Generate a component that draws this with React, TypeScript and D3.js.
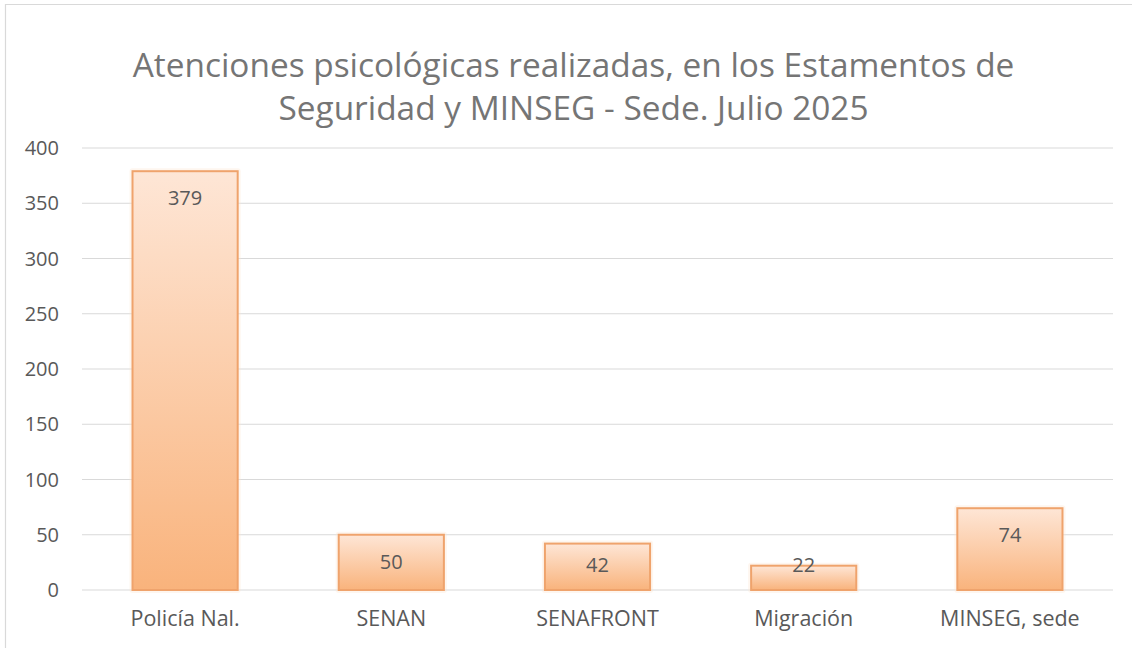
import React from "react";
import * as d3 from "d3";

const categories = ["Policía Nal.", "SENAN", "SENAFRONT", "Migración", "MINSEG, sede"];
const values = [379, 50, 42, 22, 74];
const yTicks = [0, 50, 100, 150, 200, 250, 300, 350, 400];
const titleLines = [
  "Atenciones psicológicas realizadas, en los Estamentos de",
  "Seguridad y MINSEG - Sede. Julio 2025",
];

const W = 1132;
const H = 648;
const FONT = "'Open Sans', Lato, sans-serif";

export default function App() {
  const left = 82;
  const right = 1113;
  const top = 148;
  const bottom = 590;
  const x = d3.scaleBand<string>().domain(categories).range([left, right]).paddingInner(0.49).paddingOuter(0.245);
  const y = d3.scaleLinear().domain([0, 400]).range([bottom, top]);

  return (
    <svg width={W} height={H} style={{ position: "absolute", left: 0, top: 0 }}>
      <defs>
        <linearGradient id="barGrad" x1="0" y1="0" x2="0" y2="1">
          <stop offset="0" stopColor="#FEE6D6" />
          <stop offset="1" stopColor="#F9B37C" />
        </linearGradient>
      </defs>
      <rect x={0} y={0} width={W} height={H} fill="#ffffff" />
      <path d={`M5.5,${H} V4.5 H${W}`} fill="none" stroke="#d9d9d9" strokeWidth={1.2} />
      {titleLines.map((t, i) => (
        <text key={i} x={573.5} y={77 + i * 43} textAnchor="middle" fontFamily={FONT} fontSize={33.4} fill="#757575">
          {t}
        </text>
      ))}
      {yTicks.map((t) => (
        <g key={t}>
          <line x1={left} x2={right} y1={y(t)} y2={y(t)} stroke="#d9d9d9" strokeWidth={1.2} />
          <text x={59} y={y(t) + 7} textAnchor="end" fontFamily={FONT} fontSize={20} fill="#595959">
            {t}
          </text>
        </g>
      ))}
      {categories.map((c, i) => {
        const bx = x(c)!;
        const bw = x.bandwidth();
        const by = y(values[i]);
        const bh = bottom - by;
        const ly = Math.min(by + 27, bottom - 25);
        return (
          <g key={c}>
            <rect x={bx - 3} y={by - 3} width={bw + 6} height={bh + 6} fill="#FCE4D2" opacity={0.35} rx={3} />
            <rect x={bx} y={by} width={bw} height={bh} fill="url(#barGrad)" stroke="#EFA36C" strokeWidth={2} />
            <text x={bx + bw / 2} y={ly + 7} textAnchor="middle" fontFamily={FONT} fontSize={20} fill="#595959">
              {values[i]}
            </text>
            <text x={bx + bw / 2} y={626} textAnchor="middle" fontFamily={FONT} fontSize={21.5} fill="#595959">
              {c}
            </text>
          </g>
        );
      })}
    </svg>
  );
}
